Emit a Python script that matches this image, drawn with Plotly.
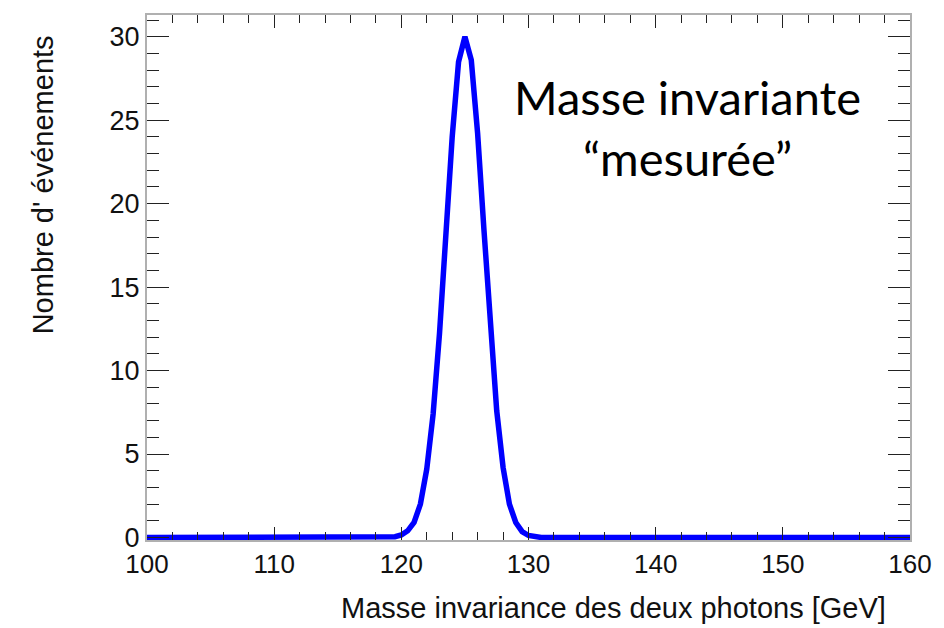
import plotly.graph_objects as go

# Reconstructed diphoton invariant-mass spectrum (0.5 GeV steps around the peak)
mass_gev = [100.0, 119.0, 119.5, 120.0, 120.5, 121.0, 121.5, 122.0, 122.5, 123.0,
            123.5, 124.0, 124.5, 125.0, 125.5, 126.0, 126.5, 127.0, 127.5, 128.0,
            128.5, 129.0, 129.5, 130.0, 130.5, 131.0, 160.0]
n_events = [0.0, 0.0, 0.05, 0.15, 0.4, 0.9, 2.0, 4.1, 7.4, 12.2,
            18.0, 24.0, 28.5, 30.0, 28.6, 24.2, 18.4, 12.5, 7.6, 4.2,
            2.0, 0.9, 0.35, 0.12, 0.02, 0.0, 0.0]

x_ticks = [100, 110, 120, 130, 140, 150, 160]
y_ticks = [0, 5, 10, 15, 20, 25, 30]

x_title = "Masse invariance des deux photons [GeV]"
y_title = "Nombre d' événements"
note_text = "Masse invariante<br>\u201cmesurée\u201d"

fig = go.Figure()
fig.add_trace(go.Scatter(
    x=mass_gev, y=n_events, mode="lines",
    line=dict(color="#0000ff", width=5.5),
    hoverinfo="skip", showlegend=False,
))

axis_font = dict(family="Liberation Sans, Arial, sans-serif", color="#111111")

fig.update_xaxes(
    range=[100, 160], tickvals=x_ticks, ticktext=[str(t) for t in x_ticks],
    ticks="inside", ticklen=13, tickwidth=1.3, tickcolor="#222222",
    minor=dict(dtick=2, ticks="inside", ticklen=8, tickwidth=1.3, tickcolor="#222222"),
    showline=True, linecolor="#b0b0b0", linewidth=2, mirror="ticks",
    showgrid=False, zeroline=False,
    tickfont=dict(size=26, **axis_font),
)
fig.update_yaxes(
    range=[-0.15, 31.3], tickvals=y_ticks, ticktext=[str(t) for t in y_ticks],
    ticks="inside", ticklen=22, tickwidth=1.3, tickcolor="#222222",
    minor=dict(dtick=1, ticks="inside", ticklen=12, tickwidth=1.3, tickcolor="#222222"),
    showline=True, linecolor="#b0b0b0", linewidth=2, mirror="ticks",
    showgrid=False, zeroline=False,
    tickfont=dict(size=27, **axis_font),
)

# Axis titles, placed like the original ROOT canvas (x title right of centre)
fig.add_annotation(
    x=0.612, y=-0.1295, xref="paper", yref="paper",
    xanchor="center", yanchor="middle",
    text=x_title, showarrow=False,
    font=dict(size=29, **axis_font),
)
fig.add_annotation(
    x=-0.136, y=0.676, xref="paper", yref="paper",
    xanchor="center", yanchor="middle", textangle=-90,
    text=y_title, showarrow=False,
    font=dict(size=29, **axis_font),
)

fig.add_annotation(
    x=0.708, y=0.785, xref="paper", yref="paper",
    xanchor="center", yanchor="middle",
    text=note_text, showarrow=False, align="center",
    font=dict(family="Lato, sans-serif", size=47, color="#000000"),
)

fig.update_layout(
    width=944, height=628,
    margin=dict(l=147, r=26, t=15, b=88),
    paper_bgcolor="white", plot_bgcolor="white",
)

fig.write_html("out.html")
